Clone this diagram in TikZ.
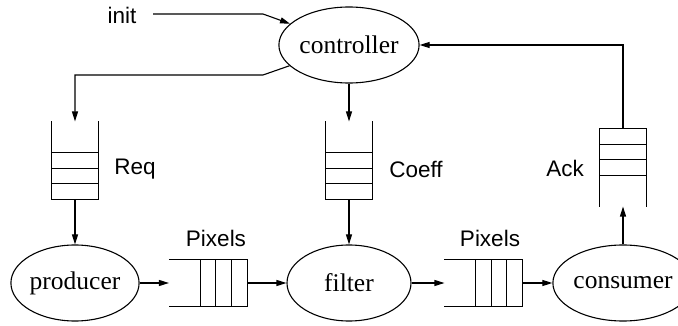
\documentclass[tikz,border=0pt]{standalone}
\usepackage{fontspec}
\setmainfont{Liberation Serif}
\setsansfont{Liberation Sans}
\usetikzlibrary{shapes.geometric,arrows.meta,calc}

% Draw a FIFO queue inside a (invisible) rectangle node:
% #1 node, #2 open corner A, #3 closed corner A, #4 closed corner B, #5 open corner B
\newcommand\fifo[5]{%
  \draw (#1.#2) -- (#1.#3) -- (#1.#4) -- (#1.#5);
  \foreach \cellfrac in {0.2,0.4,0.6}
    \draw ($(#1.#3)!\cellfrac!(#1.#2)$) -- ($(#1.#4)!\cellfrac!(#1.#5)$);
}

\begin{document}
\begin{tikzpicture}[x=1pt,y=-1pt,line width=1.1pt,
  proc/.style={ellipse,draw,minimum width=124pt,minimum height=76pt,inner sep=0pt,
    font=\fontsize{25.5}{30}\selectfont},
  qvert/.style={rectangle,minimum width=46pt,minimum height=77pt,inner sep=0pt},
  qhorz/.style={rectangle,minimum width=77pt,minimum height=46pt,inner sep=0pt},
  lbl/.style={font=\sffamily\fontsize{22.5}{26}\selectfont,inner sep=0pt},
  arr/.style={-{Triangle[length=10pt,width=6pt]}}]
\useasboundingbox (0,0) rectangle (678,326);

% processes
\node[proc] (controller) at (349,45) {controller};
\node[proc] (producer) at (75,283) {producer};
\node[proc] (filter) at (349,283) {filter};
\node[proc] (consumer) at (623,283) {consumer};

% queues
\node[qvert] (req) at (75,160.5) {};
\node[qvert] (coeff) at (349,160.5) {};
\node[qvert] (ack) at (623,167.5) {};
\node[qhorz] (pix1) at (208,283) {};
\node[qhorz] (pix2) at (483.5,283) {};
\fifo{req}{north west}{south west}{south east}{north east}
\fifo{coeff}{north west}{south west}{south east}{north east}
\fifo{ack}{south west}{north west}{north east}{south east}
\fifo{pix1}{north west}{north east}{south east}{south west}
\fifo{pix2}{north west}{north east}{south east}{south west}

% labels
\node[lbl] (init) at (122,15) {init};
\node[lbl] (reqlbl) at (135,169) {Req};
\node[lbl] (coefflbl) at (416,169) {Coeff};
\node[lbl] (acklbl) at (565,168) {Ack};
\node[lbl] (pix1lbl) at (216,238) {Pixels};
\node[lbl] (pix2lbl) at (490,238) {Pixels};

% connectors
\coordinate (initstart) at (153,14);
\coordinate (initbend) at (263,14);
\coordinate (reqbend) at (263,75);
\draw[arr] (initstart) -- (initbend) -- (controller);
\draw[arr] (controller) -- (reqbend) -| (req.north);
\draw[arr] (controller) -- (coeff.north);
\draw[arr] (req.south) -- (producer);
\draw[arr] (coeff.south) -- (filter);
\draw[arr] (producer) -- (pix1.west);
\draw[arr] (pix1.east) -- (filter);
\draw[arr] (filter) -- (pix2.west);
\draw[arr] (pix2.east) -- (consumer);
\draw[arr] (consumer) -- (ack.south);
\draw[arr] (ack.north) |- (controller);
\end{tikzpicture}
\end{document}
